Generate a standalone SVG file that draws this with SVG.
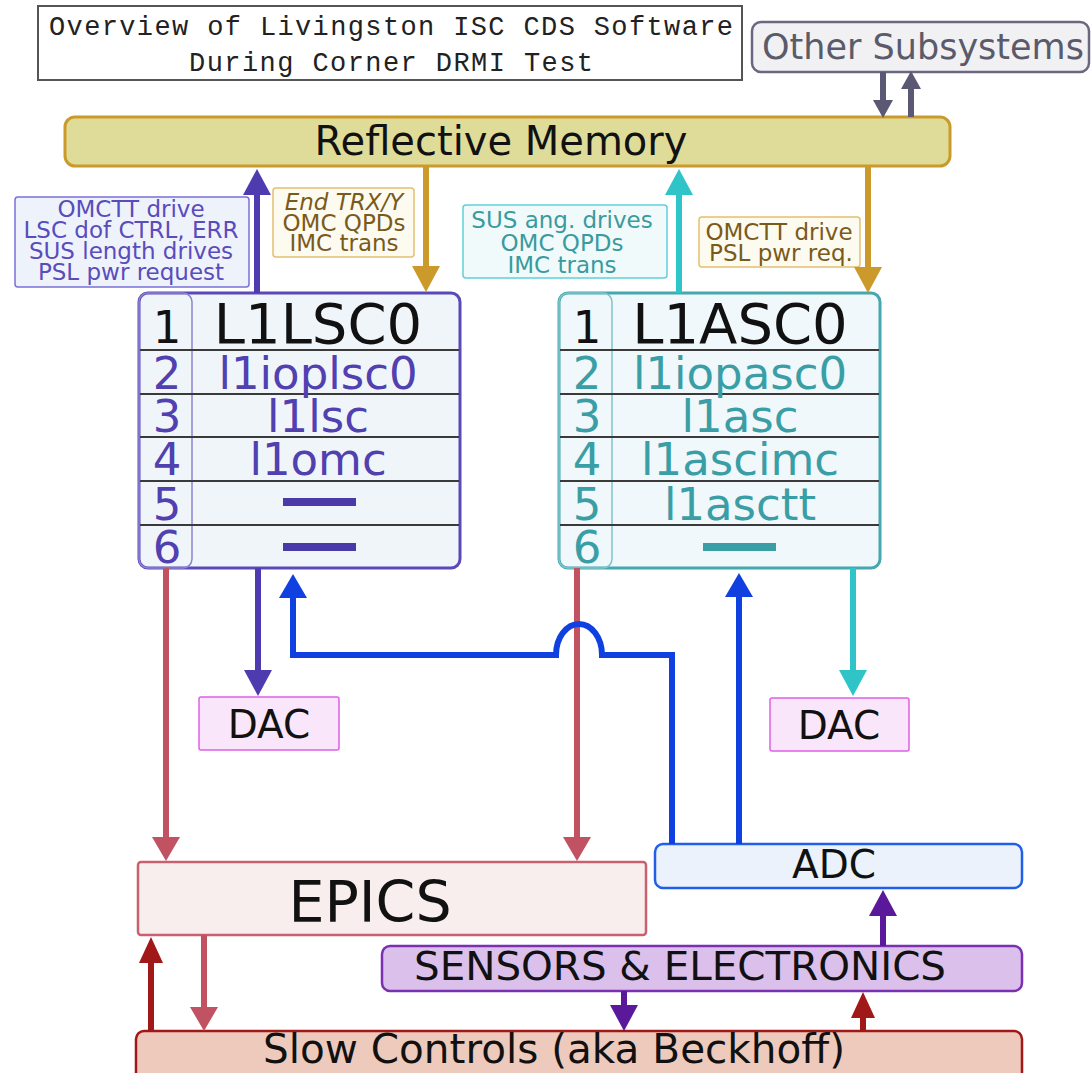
<svg xmlns="http://www.w3.org/2000/svg" width="1091" height="1073" viewBox="0 0 1091 1073">
<style>
.s{font-family:"DejaVu Sans","Noto Sans",sans-serif}
.mono{font-family:"Liberation Mono","DejaVu Sans Mono",monospace;font-size:27px;fill:#222}
.c{text-anchor:middle}
.ln{fill:none;stroke-width:6}
.sep{stroke:#3a3a3a;stroke-width:2}
</style>
<defs>
<marker id="aGray" markerUnits="userSpaceOnUse" markerWidth="18" markerHeight="20" refX="1" refY="10" orient="auto"><path d="M0,0 L18,10 L0,20 z" fill="#5a5872"/></marker>
<marker id="aPurple" markerUnits="userSpaceOnUse" markerWidth="26" markerHeight="28" refX="1" refY="14" orient="auto"><path d="M0,0 L26,14 L0,28 z" fill="#4e3bb0"/></marker>
<marker id="aGold" markerUnits="userSpaceOnUse" markerWidth="26" markerHeight="28" refX="1" refY="14" orient="auto"><path d="M0,0 L26,14 L0,28 z" fill="#cc9a2a"/></marker>
<marker id="aCyan" markerUnits="userSpaceOnUse" markerWidth="26" markerHeight="28" refX="1" refY="14" orient="auto"><path d="M0,0 L26,14 L0,28 z" fill="#2ec4c8"/></marker>
<marker id="aRose" markerUnits="userSpaceOnUse" markerWidth="24" markerHeight="28" refX="1" refY="14" orient="auto"><path d="M0,0 L24,14 L0,28 z" fill="#c05262"/></marker>
<marker id="aBlue" markerUnits="userSpaceOnUse" markerWidth="24" markerHeight="28" refX="1" refY="14" orient="auto"><path d="M0,0 L24,14 L0,28 z" fill="#1040e0"/></marker>
<marker id="aViolet" markerUnits="userSpaceOnUse" markerWidth="26" markerHeight="28" refX="1" refY="14" orient="auto"><path d="M0,0 L26,14 L0,28 z" fill="#5a189a"/></marker>
<marker id="aDark" markerUnits="userSpaceOnUse" markerWidth="26" markerHeight="24" refX="1" refY="12" orient="auto"><path d="M0,0 L26,12 L0,24 z" fill="#a01818"/></marker>
</defs>
<rect width="1091" height="1073" fill="#ffffff"/>

<g id="title">
<rect x="38" y="6" width="704" height="74" fill="#fff" stroke="#555" stroke-width="2"/>
<text class="mono" x="49" y="35" textLength="684" lengthAdjust="spacing">Overview of Livingston ISC CDS Software</text>
<text class="mono" x="189" y="71" textLength="404" lengthAdjust="spacing">During Corner DRMI Test</text>
</g>

<g id="other-subsystems">
<rect x="752" y="22" width="337" height="50" rx="9" fill="#f1f1f4" stroke="#6a6880" stroke-width="2.5"/>
<text class="s c" x="923" y="59" font-size="35" fill="#5a5a6a">Other Subsystems</text>
</g>

<g id="reflective-memory">
<rect x="65" y="117" width="885" height="49" rx="10" fill="#dedc98" stroke="#cc9a2a" stroke-width="3"/>
<text class="s c" x="501" y="155" font-size="40" fill="#111">Reflective Memory</text>
</g>

<g id="label-lsc-out">
<rect x="15" y="197" width="234" height="90" rx="3" fill="#eef3fb" stroke="#7a70d8" stroke-width="1.5"/>
<g class="s c" font-size="23" fill="#5a4cbc">
<text x="131" y="217">OMCTT drive</text>
<text x="131" y="238">LSC dof CTRL, ERR</text>
<text x="131" y="259">SUS length drives</text>
<text x="131" y="280">PSL pwr request</text>
</g>
</g>

<g id="label-lsc-in">
<rect x="273" y="188" width="141" height="69" rx="3" fill="#fdfbf0" stroke="#e2c070" stroke-width="1.5"/>
<g class="s c" font-size="23" fill="#7a5a1a">
<text x="344" y="210" font-style="italic">End TRX/Y</text>
<text x="344" y="231">OMC QPDs</text>
<text x="344" y="251">IMC trans</text>
</g>
</g>

<g id="label-asc-out">
<rect x="463" y="205" width="204" height="73" rx="3" fill="#f0fafb" stroke="#60d0d8" stroke-width="1.5"/>
<g class="s c" font-size="23" fill="#3a9a9e">
<text x="562" y="228">SUS ang. drives</text>
<text x="562" y="251">OMC QPDs</text>
<text x="562" y="273">IMC trans</text>
</g>
</g>

<g id="label-asc-in">
<rect x="699" y="217" width="161" height="50" rx="3" fill="#fdfbf0" stroke="#e2c070" stroke-width="1.5"/>
<g class="s c" font-size="23" fill="#7a5a1a">
<text x="779" y="240">OMCTT drive</text>
<text x="781" y="261">PSL pwr req.</text>
</g>
</g>

<g id="l1lsc0">
<rect x="139" y="293" width="321" height="275" rx="9" fill="#f0f5fa" stroke="#5a4ab8" stroke-width="3"/>
<rect x="139" y="293" width="53" height="275" rx="9" fill="none" stroke="#8c82d2" stroke-width="1.5"/>
<line class="sep" x1="140" y1="350" x2="459" y2="350" stroke="#111" stroke-width="2.5"/>
<line class="sep" x1="140" y1="394" x2="459" y2="394"/>
<line class="sep" x1="140" y1="437" x2="459" y2="437"/>
<line class="sep" x1="140" y1="481" x2="459" y2="481"/>
<line class="sep" x1="140" y1="525" x2="459" y2="525"/>
<text class="s c" x="167" y="343" font-size="45" fill="#111">1</text>
<text class="s c" x="318" y="343" font-size="56" fill="#111">L1LSC0</text>
<g class="s c" font-size="45" fill="#5040b0">
<text x="167" y="389">2</text>
<text x="167" y="432">3</text>
<text x="167" y="475">4</text>
<text x="167" y="520">5</text>
<text x="167" y="563">6</text>
</g>
<g class="s c" font-size="45" fill="#5040b0">
<text x="318" y="389">l1ioplsc0</text>
<text x="318" y="432">l1lsc</text>
<text x="318" y="475">l1omc</text>
</g>
<rect x="283" y="498" width="73" height="8" fill="#4a3aa8"/>
<rect x="283" y="543" width="73" height="8" fill="#4a3aa8"/>
</g>

<g id="l1asc0">
<rect x="559" y="293" width="321" height="275" rx="9" fill="#f0f8fb" stroke="#45a8b0" stroke-width="3"/>
<rect x="559" y="293" width="53" height="275" rx="9" fill="none" stroke="#7cc4ca" stroke-width="1.5"/>
<line class="sep" x1="560" y1="350" x2="879" y2="350" stroke="#111" stroke-width="2.5"/>
<line class="sep" x1="560" y1="394" x2="879" y2="394"/>
<line class="sep" x1="560" y1="437" x2="879" y2="437"/>
<line class="sep" x1="560" y1="481" x2="879" y2="481"/>
<line class="sep" x1="560" y1="525" x2="879" y2="525"/>
<text class="s c" x="587" y="343" font-size="45" fill="#111">1</text>
<text class="s c" x="740" y="343" font-size="56" fill="#111">L1ASC0</text>
<g class="s c" font-size="45" fill="#3a9ea6">
<text x="587" y="389">2</text>
<text x="587" y="432">3</text>
<text x="587" y="475">4</text>
<text x="587" y="520">5</text>
<text x="587" y="563">6</text>
</g>
<g class="s c" font-size="45" fill="#3a9ea6">
<text x="740" y="389">l1iopasc0</text>
<text x="740" y="432">l1asc</text>
<text x="740" y="475">l1ascimc</text>
<text x="740" y="520">l1asctt</text>
</g>
<rect x="703" y="543" width="73" height="8" fill="#3a9ea6"/>
</g>

<g id="dac-left">
<rect x="199" y="697" width="140" height="53" rx="2" fill="#f9e6fa" stroke="#e060e8" stroke-width="1.5"/>
<text class="s c" x="269" y="738" font-size="39" fill="#111">DAC</text>
</g>
<g id="dac-right">
<rect x="770" y="698" width="139" height="53" rx="2" fill="#f9e6fa" stroke="#e060e8" stroke-width="1.5"/>
<text class="s c" x="839" y="739" font-size="39" fill="#111">DAC</text>
</g>

<g id="epics">
<rect x="138" y="862" width="508" height="73" rx="3" fill="#f9eeee" stroke="#c86070" stroke-width="2.5"/>
<text class="s c" x="370" y="922" font-size="57" fill="#111">EPICS</text>
</g>
<g id="adc">
<rect x="655" y="844" width="367" height="44" rx="8" fill="#ecf2fc" stroke="#2060e8" stroke-width="2.5"/>
<text class="s c" x="834" y="878" font-size="39" fill="#111">ADC</text>
</g>
<g id="sensors">
<rect x="382" y="946" width="640" height="45" rx="8" fill="#dcc0ec" stroke="#7a30b0" stroke-width="2.5"/>
<text class="s" x="414" y="980" font-size="39" fill="#111" textLength="532" lengthAdjust="spacingAndGlyphs">SENSORS &amp; ELECTRONICS</text>
</g>
<g id="slow-controls">
<rect x="136" y="1031" width="886" height="52" rx="8" fill="#eecabc" stroke="#a01818" stroke-width="2.5"/>
<text class="s" x="263" y="1063" font-size="40" fill="#111" textLength="582" lengthAdjust="spacingAndGlyphs">Slow Controls (aka Beckhoff)</text>
</g>

<g id="connectors">
<line class="ln" x1="883" y1="72" x2="883" y2="101" stroke="#5a5872" stroke-width="5" marker-end="url(#aGray)"/>
<line class="ln" x1="911" y1="117" x2="911" y2="88" stroke="#5a5872" stroke-width="5" marker-end="url(#aGray)"/>
<line class="ln" x1="257" y1="293" x2="257" y2="194" stroke="#4e3bb0" marker-end="url(#aPurple)"/>
<line class="ln" x1="426" y1="166" x2="426" y2="267" stroke="#cc9a2a" marker-end="url(#aGold)"/>
<line class="ln" x1="679" y1="293" x2="679" y2="194" stroke="#2ec4c8" marker-end="url(#aCyan)"/>
<line class="ln" x1="868" y1="166" x2="868" y2="268" stroke="#cc9a2a" marker-end="url(#aGold)"/>
<line class="ln" x1="166" y1="568" x2="166" y2="838" stroke="#c05262" stroke-width="5" marker-end="url(#aRose)"/>
<line class="ln" x1="258" y1="568" x2="258" y2="671" stroke="#4e3bb0" marker-end="url(#aPurple)"/>
<line class="ln" x1="577" y1="568" x2="577" y2="838" stroke="#c05262" stroke-width="5" marker-end="url(#aRose)"/>
<path class="ln" d="M672,844 V655 H602 A23,31 0 0 0 556,655 H293 V597" stroke="#1040e0" stroke-linejoin="miter" marker-end="url(#aBlue)"/>
<line class="ln" x1="739" y1="844" x2="739" y2="596" stroke="#1040e0" marker-end="url(#aBlue)"/>
<line class="ln" x1="853" y1="568" x2="853" y2="671" stroke="#2ec4c8" marker-end="url(#aCyan)"/>
<line class="ln" x1="883" y1="946" x2="883" y2="915" stroke="#5a189a" stroke-width="5" marker-end="url(#aViolet)"/>
<line class="ln" x1="204" y1="935" x2="204" y2="1008" stroke="#c05262" stroke-width="5" marker-end="url(#aRose)"/>
<line class="ln" x1="151" y1="1031" x2="151" y2="962" stroke="#a01818" stroke-width="5" marker-end="url(#aDark)"/>
<line class="ln" x1="624" y1="991" x2="624" y2="1006" stroke="#5a189a" stroke-width="5" marker-end="url(#aViolet)"/>
<line class="ln" x1="863" y1="1031" x2="863" y2="1017" stroke="#a01818" stroke-width="5" marker-end="url(#aDark)"/>
</g>
</svg>
